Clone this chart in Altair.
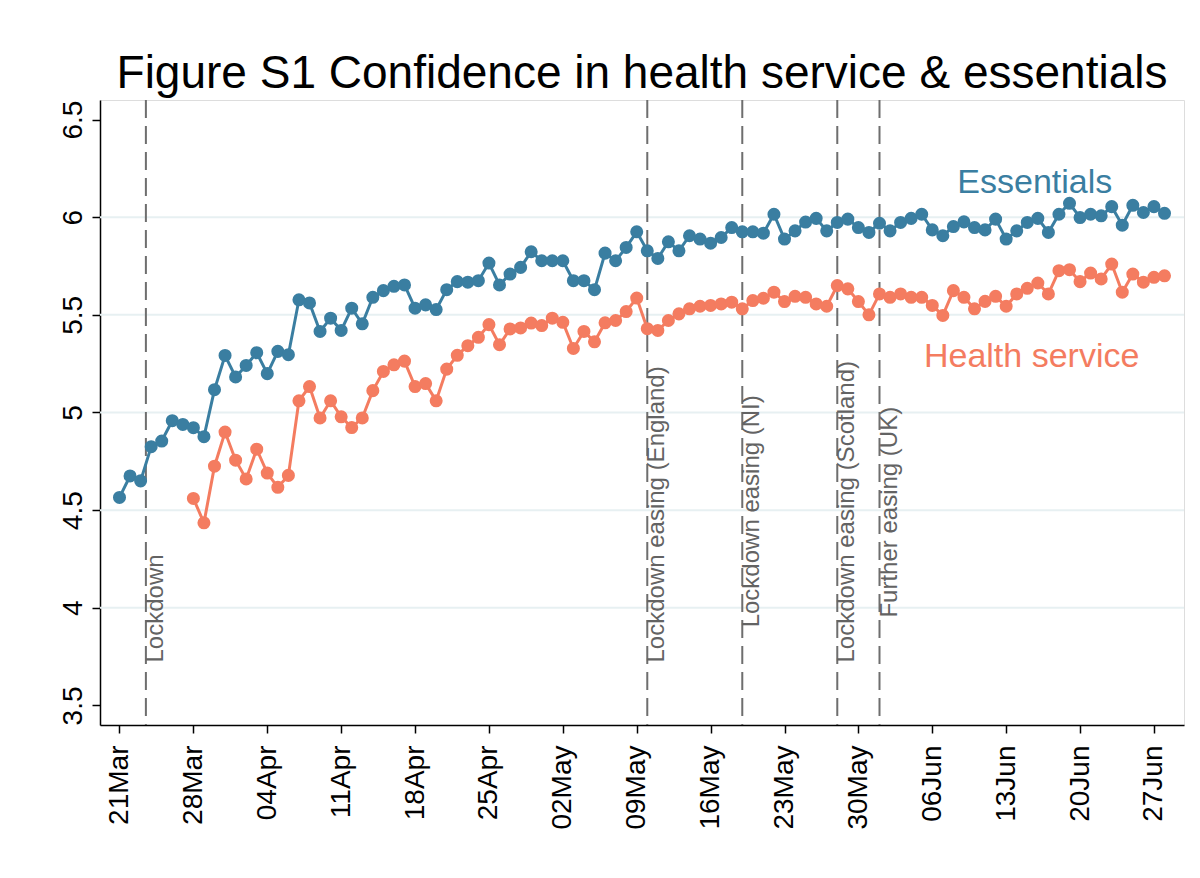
import altair as alt
import pandas as pd

# ---------------- data ----------------
essentials_start = "2020-03-21"
essentials = [
    4.565, 4.675, 4.650, 4.825, 4.854, 4.958, 4.939, 4.922, 4.876, 5.117,
    5.292,
    5.182, 5.241, 5.306, 5.199, 5.313, 5.296, 5.577, 5.561, 5.415, 5.483,
    5.420, 5.534, 5.454, 5.590, 5.624, 5.646, 5.653, 5.534, 5.551, 5.527,
    5.629, 5.670, 5.667, 5.675, 5.765, 5.653, 5.709, 5.743, 5.823, 5.777,
    5.777, 5.777, 5.675, 5.675, 5.629, 5.816, 5.777, 5.845, 5.925, 5.828,
    5.789, 5.874, 5.828, 5.905, 5.888, 5.867, 5.896, 5.947, 5.925, 5.925,
    5.918, 6.015, 5.888, 5.930, 5.975, 5.994, 5.930, 5.973, 5.990, 5.947,
    5.922,
    5.969, 5.930, 5.973, 5.994, 6.015, 5.935, 5.905, 5.952, 5.976, 5.947,
    5.935, 5.990, 5.888, 5.930, 5.973, 5.994, 5.922, 6.015, 6.071, 5.998,
    6.015, 6.007, 6.054, 5.959, 6.061, 6.024, 6.054, 6.020,
]

health_start = "2020-03-28"
health = [
    4.560, 4.435, 4.725, 4.900,
    4.756, 4.660, 4.812, 4.690, 4.617, 4.678, 5.060, 5.133, 4.972, 5.060,
    4.978, 4.923, 4.972, 5.112, 5.210, 5.244, 5.263, 5.133, 5.148, 5.060,
    5.222, 5.293, 5.342, 5.385, 5.450, 5.347, 5.428, 5.433, 5.458, 5.445,
    5.483, 5.462, 5.328, 5.415, 5.362, 5.459, 5.471, 5.517, 5.586, 5.429,
    5.420, 5.471, 5.505, 5.531, 5.544, 5.548, 5.556, 5.565, 5.531, 5.573,
    5.585, 5.616, 5.568, 5.595, 5.590, 5.556, 5.544, 5.650, 5.633, 5.568,
    5.500,
    5.607, 5.590, 5.607, 5.590, 5.590, 5.548, 5.497, 5.624, 5.590, 5.531,
    5.569, 5.595, 5.544, 5.607, 5.636, 5.663, 5.607, 5.726, 5.731, 5.670,
    5.714, 5.684, 5.760, 5.616, 5.709, 5.667, 5.692, 5.700,
]

series_names = ["Essentials", "Health service"]
series_colors = ["#3A7EA1", "#F47C60"]

event_names = [
    "Lockdown",
    "Lockdown easing (England)",
    "Lockdown easing (NI)",
    "Lockdown easing (Scotland)",
    "Further easing (UK)",
]
event_dates = [
    "2020-03-23T12:00:00",
    "2020-05-10T00:00:00",
    "2020-05-19T00:00:00",
    "2020-05-28T00:00:00",
    "2020-06-01T00:00:00",
]
event_label_values = [3.72, 3.72, 3.90, 3.72, 3.95]

label_texts = ["Essentials", "Health service"]
label_dates = ["2020-06-08T09:00:00", "2020-06-05T05:00:00"]
label_values = [6.122, 5.234]

grid_values = [4.0, 4.5, 5.0, 5.5, 6.0]
y_ticks = [3.5, 4.0, 4.5, 5.0, 5.5, 6.0, 6.5]
x_tick_dates = pd.date_range("2020-03-21", "2020-06-27", freq="7D")

# ---------------- tables ----------------
def fmt(ts):
    return ts.strftime("%Y-%m-%dT%H:%M:%S")

ess_dates = pd.date_range(essentials_start, periods=len(essentials), freq="D")
hs_dates = pd.date_range(health_start, periods=len(health), freq="D")
series_df = pd.DataFrame({
    "date": [fmt(d) for d in ess_dates] + [fmt(d) for d in hs_dates],
    "value": essentials + health,
    "series": [series_names[0]] * len(essentials) + [series_names[1]] * len(health),
})
events_df = pd.DataFrame({"date": event_dates, "value": event_label_values, "name": event_names})
labels_df = pd.DataFrame({"date": label_dates, "value": label_values,
                          "series": label_texts, "text": label_texts})
grid_df = pd.DataFrame({"value": grid_values})

FONT = "Liberation Sans"

x_scale = alt.Scale(domain=[
    alt.DateTime(year=2020, month=3, date=19, hours=3, minutes=40),
    alt.DateTime(year=2020, month=6, date=29, hours=20, minutes=20),
])
y_scale = alt.Scale(domain=[3.4, 6.6], nice=False, zero=False)
color_scale = alt.Scale(domain=series_names, range=series_colors)

x_axis = alt.Axis(
    values=[alt.DateTime(year=d.year, month=d.month, date=d.day) for d in x_tick_dates],
    format="%d%b", labelAngle=270, labelAlign="right", labelBaseline="middle",
    labelFontSize=28, labelFont=FONT, labelColor="black", labelPadding=12,
    tickSize=8, tickColor="black", tickWidth=1.5, domainColor="black", domainWidth=1.5,
    grid=False, labelFlush=False, labelOverlap=False, title=None,
)
y_axis = alt.Axis(
    values=y_ticks, format="~g", labelAngle=270, labelAlign="center", labelBaseline="bottom",
    labelFontSize=28, labelFont=FONT, labelColor="black", labelPadding=5,
    tickSize=8, tickColor="black", tickWidth=1.5, domainColor="black", domainWidth=1.5,
    grid=False, labelFlush=False, labelOverlap=False, title=None,
)

def X():
    return alt.X("date:T", scale=x_scale, axis=x_axis)

def Y():
    return alt.Y("value:Q", scale=y_scale, axis=y_axis)

grid = alt.Chart(grid_df).mark_rule(color="#E7F0F2", strokeWidth=2).encode(y=Y())

event_rules = alt.Chart(events_df).mark_rule(
    color="#6E6E6E", strokeWidth=2, strokeDash=[18, 8]
).encode(x=X())

event_text = alt.Chart(events_df).mark_text(
    angle=270, align="left", baseline="alphabetic", dy=17,
    fontSize=24, font=FONT, color="#636363"
).encode(x=X(), y=Y(), text="name:N")

lines = alt.Chart(series_df).mark_line(strokeWidth=3).encode(
    x=X(), y=Y(), color=alt.Color("series:N", scale=color_scale, legend=None)
)
points = alt.Chart(series_df).mark_circle(size=170, opacity=1).encode(
    x=X(), y=Y(), color=alt.Color("series:N", scale=color_scale, legend=None)
)

series_text = alt.Chart(labels_df).mark_text(
    align="left", baseline="alphabetic", fontSize=34, font=FONT
).encode(x=X(), y=Y(), text="text:N",
         color=alt.Color("series:N", scale=color_scale, legend=None))

chart = alt.layer(grid, event_rules, event_text, lines, points, series_text).properties(
    width=1084, height=625,
    title=alt.TitleParams(
        text="Figure S1 Confidence in health service & essentials",
        fontSize=46, font=FONT, fontWeight="normal", color="black",
        anchor="middle", baseline="alphabetic", offset=16, dy=51,
    ),
    autosize=alt.AutoSizeParams(type="none"),
    padding={"left": 92, "top": 92, "right": 8, "bottom": 130},
).configure_view(stroke="transparent", strokeWidth=0).configure(background="white")

chart.save("out.html", embed_options={"renderer": "svg", "actions": False})
